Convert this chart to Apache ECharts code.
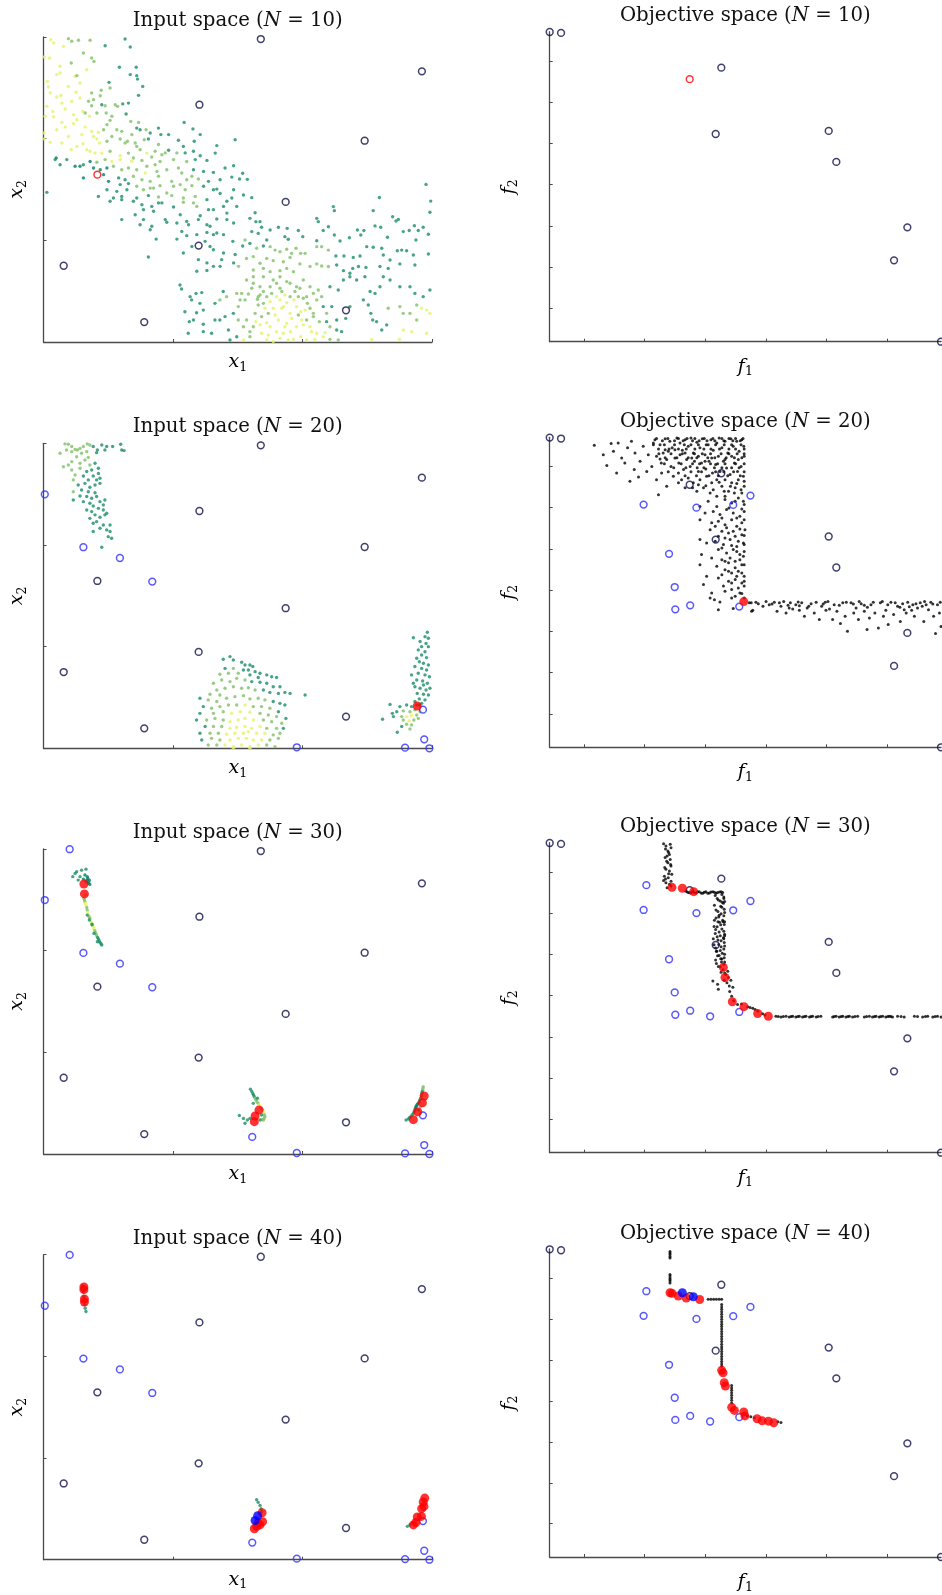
<!DOCTYPE html>
<html><head><meta charset="utf-8">
<script src="https://cdn.jsdelivr.net/npm/echarts@6/dist/echarts.min.js"></script>
<style>html,body{margin:0;padding:0;background:#fff}#c{width:942px;height:1595px}</style>
</head><body><div id="c"></div>
<script>
// ---------------- DATA ----------------
const sampleSizes = [10, 20, 30, 40];
// input space (x1 in [-5,10], x2 in [0,15])
const inputInit = [[3.39,14.9],[9.61,13.31],[1.02,11.67],[7.40,9.90],[4.35,6.89],[0.99,4.74],[-4.22,3.75],[-1.11,0.98],[6.68,1.56]];
const inputRed10 = [[-2.92,8.23]];
const inputAdded20 = [[-4.95,12.49],[-3.46,9.89],[-2.05,9.36],[-0.80,8.20],[4.78,0.05],[8.96,0.03],[9.70,0.44],[9.90,0],[9.65,1.90]];
const inputBest20 = [[9.43,2.08]];
const inputAdded30 = [[-3.99,14.99],[3.06,0.84]];
const inputBest30 = [[-3.44,13.28],[-3.42,12.79],[3.32,2.16],[3.17,1.87],[3.14,1.59],[9.70,2.85],[9.63,2.52],[9.45,2.08],[9.28,1.69]];
const inputBest40 = [[-3.44,13.41],[-3.44,13.28],[-3.42,12.82],[-3.42,12.67],[3.44,2.31],[3.46,1.87],[3.36,1.71],[3.23,1.64],[3.14,1.52],[3.29,1.80],[9.72,3.03],[9.66,2.84],[9.69,2.62],[9.60,2.51],[9.59,2.13],[9.43,2.10],[9.38,1.83],[9.28,1.71]];
const inputBlue40 = [[3.17,1.93],[3.27,2.16]];
// objective space (f1, f2 normalised)
const objInit = [[0,0.999],[0.029,0.996],[0.4386,0.884],[0.4242,0.670],[0.713,0.680],[0.7325,0.580],[0.914,0.369],[0.880,0.2625],[1.0,0]];
const objRed10 = [[0.3578,0.847]];
const objAdded20 = [[0.240,0.783],[0.375,0.773],[0.469,0.782],[0.513,0.812],[0.305,0.624],[0.3195,0.517],[0.321,0.445],[0.359,0.458],[0.4845,0.454]];
const objBest20 = [[0.496,0.470]];
const objAdded30 = [[0.247,0.863],[0.410,0.440]];
const objBest30 = [[0.3125,0.856],[0.339,0.853],[0.368,0.842],[0.4437,0.598],[0.448,0.565],[0.4667,0.487],[0.4966,0.471],[0.5315,0.449],[0.5587,0.440]];
const objBest40 = [[0.3075,0.858],[0.3125,0.856],[0.3287,0.847],[0.349,0.841],[0.3833,0.836],[0.4395,0.606],[0.443,0.598],[0.446,0.566],[0.449,0.555],[0.465,0.486],[0.472,0.476],[0.496,0.471],[0.499,0.458],[0.530,0.449],[0.543,0.442],[0.559,0.441],[0.5725,0.436]];
const objBlue40 = [[0.339,0.858],[0.367,0.845]];
const f1Ticks = [0.0894,0.2428,0.3977,0.5528,0.7079,0.862];
const f2Ticks = [0.108,0.241,0.374,0.507,0.640,0.773,0.906];

// sample clouds in input space: [x1, x2, value 0..9]
const cloudIn10 = [
[-4.72,14.87,9],[-4.61,14.71,9],[-4.04,14.92,5],[-3.91,14.79,5],[-3.65,14.84,5],[-3.2,14.84,5],[-2.62,14.57,1],[-1.85,14.9,1],[-1.65,14.51,1],
[-4.97,14.02,9],[-4.77,13.97,9],[-3.93,13.72,5],[-3.14,13.97,5],[-3.05,13.8,5],[-2.07,13.51,1],[-1.42,13.51,1],
[-4.49,13.15,9],[-4.36,13.23,9],[-3.78,13.07,9],[-3.71,13.1,5],[-1.65,13.15,1],[-1.4,13.1,1],[-1.37,12.93,1],[-4.85,12.82,9],[-4.81,12.54,9],[-2.47,12.77,1],[-1.17,12.57,1],
[-3.74,12.28,9],[-3.14,12.25,5],[-2.77,12.38,5],[-2.81,12.11,5],[-2.43,12.49,5],[-1.33,12.13,1],[-4.49,12.05,9],[-4.33,12.12,9],[-3.59,12,9],[-3.07,11.92,5],[-2.75,11.67,1],[-2.23,11.67,5],[-1.94,11.71,1],[-1.72,11.75,1],
[-4.87,11.59,9],[-4.64,11.34,9],[-4.16,11.46,9],[-3.48,11.34,9],[-3.39,11.26,5],[-3.14,11.62,5],[-2.62,11.62,5],[-2.14,11.59,5],[-4.94,11.1,9],[-4.61,11.07,9],[-3.84,11.18,9],[-3.23,11.1,9],[-2.94,11.26,5],[-2.58,11.26,5],[-2.36,11.1,5],[-1.81,11.21,1],[-2.43,10.9,5],[-1.63,10.85,5],[-1.33,10.8,5],[0.43,10.8,1],
[-4.29,10.8,9],[-3.84,10.74,9],[-4.16,10.57,9],[-3.39,10.57,9],[-3.14,10.36,9],[-2.88,10.31,9],[-2.68,10.44,5],[-1.98,10.36,5],[-1.59,10.2,5],[-1.4,10.52,1],[-1.27,10.44,1],[-1.04,10.44,5],[-0.88,10.28,1],[-0.56,10.52,1],[-0.47,10.2,1],[0.77,10.48,1],[-4.99,10.28,9],[-4.97,9.98,9],
[-3.07,10.11,9],[-2.94,9.98,9],[-2.84,9.79,9],[-2.55,9.87,5],[-2.36,10.11,5],[-2.04,9.98,5],[-1.76,9.87,5],[-1.46,9.79,5],[-1.11,9.95,5],[-0.95,9.98,1],[-0.56,9.71,5],[-0.17,10.2,1],[0.21,9.92,1],[0.82,9.87,1],[1.05,10.2,1],[1.69,9.66,1],[2.4,9.95,1],[-4.74,9.82,9],[-4.29,9.79,9],[-3.93,9.46,9],[-3.48,9.75,9],
[-3.2,9.38,9],[-3.01,9.29,9],[-2.75,9.29,9],[-2.43,9.38,5],[-2.04,9.16,9],[-1.72,9.29,5],[-1.27,9.46,5],[-1.01,9.29,9],[-0.69,9.38,5],[-0.43,9.21,5],[-0.17,9.43,1],[0.02,8.97,5],[0.4,9.62,1],[0.47,9.3,1],[0.79,9.38,1],[1.05,9.16,1],[1.31,8.93,1],[1.63,9.29,1],[2.01,8.56,1],[2.34,8.67,1],
[-4.51,9.05,0],[-4.55,8.97,1],[-4.1,8.97,1],[-3.78,8.64,0],[-3.46,8.72,1],[-3.2,8.88,0],[-2.94,8.84,5],[-2.62,8.97,5],[-2.36,8.88,9],[-2.04,8.97,9],[-1.53,9.05,5],[-1.2,8.93,5],[-0.82,9.1,5],[-0.5,8.88,5],[0.53,8.88,5],[0.86,8.97,1],
[-4.36,8.72,1],[-3.59,8.64,0],[-3.07,8.56,0],[-2.81,8.47,0],[-2.55,8.56,0],[-2.3,8.64,5],[-1.98,8.47,5],[-1.72,8.56,5],[-1.4,8.47,5],[-1.01,8.64,5],[-0.62,8.39,5],[-0.24,8.47,5],[0.21,8.56,5],[0.79,8.47,1],[1.18,8.39,1],[1.56,8.34,1],[1.82,7.98,1],[2.27,8.11,1],[2.57,8.02,1],
[-3.46,8.07,0],[-2.68,8.23,0],[-2.49,7.9,0],[-2.1,8.07,1],[-1.85,7.98,1],[-1.53,8.15,5],[-1.2,7.98,5],[-0.88,7.9,5],[-0.56,8.15,5],[-0.05,7.9,5],[0.53,7.98,5],[0.98,8.02,5],[1.37,7.9,1],
[-2.04,7.74,1],[-1.72,7.79,1],[-1.4,7.66,5],[-1.14,7.49,5],[-0.88,7.57,5],[-0.5,7.69,5],[0.02,7.66,5],[0.47,7.49,5],[0.73,7.69,5],[1.18,7.66,1],[1.69,7.52,1],[2.34,7.49,1],[-2.88,7.16,1],[-4.87,7.36,1],[-2.3,7.08,1],[-1.98,7.16,1],[-1.4,7.08,1],[-0.95,7.2,1],[-0.56,7.13,5],[-0.05,7.2,5],[0.4,7.08,5],[0.86,7.16,5],[1.31,7,1],[1.82,7.3,1],
[-2.43,6.92,1],[-1.98,7,1],[-1.53,6.92,1],[-1.2,6.75,1],[-0.82,6.67,1],[-0.43,6.84,1],[0.02,6.64,1],[0.4,6.87,5],[0.92,6.67,5],[1.37,6.51,1],[1.95,6.67,1],[2.27,7.08,1],[-1.46,6.26,1],[-1.14,6.51,1],[-0.75,6.43,1],[-0.3,6.02,1],[0.28,6.26,1],[0.53,5.93,1],[1.05,6.21,1],[1.56,6.51,1],[2.08,6.34,1],[2.46,6.67,1],[-1.98,6.02,1],
[-1.27,5.77,1],[-0.82,5.69,1],[-0.24,5.89,1],[0.15,5.85,1],[0.6,5.77,1],[0.98,6.02,1],[1.31,5.77,1],[1.69,6.05,1],[2.08,6.02,1],[2.34,5.85,1],[-0.88,5.52,1],[0.53,5.23,1],[0.92,5.28,1],[1.31,5.39,1],[1.56,5.28,1],[1.95,5.28,1],[2.31,4.95,1],[-0.65,5.06,1],[0.15,5.06,1],[0.34,5.44,1],[1.24,4.95,1],[1.69,5.36,1],
[1.43,4.7,1],[1.56,4.54,1],[1.95,4.38,1],[2.4,4.3,1],[-0.95,4.18,1],[0.4,4.38,1],[0.98,4.05,1],[1.31,3.89,1],[1.56,3.72,1],[1.88,4.05,1],[2.34,3.89,1],[0.92,3.48,1],[1.31,3.52,1],[1.82,3.72,1],[2.53,3.72,5],
[-4.23,14.54,9],[-4.36,13.56,9],[-3.46,14.21,5],[-3.33,13.39,9],[-4.04,12.57,9],[-3.59,12.74,9],[-4.74,12.25,9],[-4.29,11.75,9],[-3.91,11.84,9],[-3.26,11.84,5],[-3.71,10.93,9],[-4.49,10.44,9],[-4.04,10.11,9],[-3.52,10.2,9],[-3.33,9.46,9],[-3.71,9.62,9],[-2.55,10.69,5],[-2.17,10.44,5],[-1.85,9.79,5],[-1.4,9.62,5],[-1.59,8.89,9],[-0.69,8.72,5],[-0.3,9.3,5],[0.15,9.3,5],[0.34,8.31,5],[0.73,8.15,5],[-1.07,8.31,9],[-0.75,7.57,5],[-0.24,7.33,5],[0.28,7.74,5],[-1.78,7.49,1],[-2.17,7.41,1],[-2.55,7.49,1],[-0.56,6.84,1],[-1.14,6.02,1],[0.79,6.84,5],[1.56,7.49,1],[2.08,6.92,1],[1.43,5.69,1],[0.73,4.7,1],
[2.69,8.3,1],[2.87,8,1],[2.72,7.23,1],[3.04,7.1,1],[3.17,6.36,1],[2.97,6.08,1],[3.2,5.92,1],[3.36,5.92,1],[3.04,5.43,1],[3.29,5.34,1],[3.42,5.64,1],[3.75,5.51,1],[4.07,5.64,1],[4.41,5.59,1],[4.84,5.48,1],[4.32,5.18,1],[4.45,5.05,1],[5.01,5.18,1],[5.55,4.98,1],[5.55,6.08,1],[5.61,5.92,1],[5.8,5.48,1],[6,5.67,1],[6.23,5.26,1],[6.19,6.66,1],[6.23,6.46,1],[6.45,4.97,1],[6.81,5.13,1],[7.12,5.51,1],[7.25,5.26,1],[7.37,5.48,1],[7.73,6.46,1],[7.97,7.11,1],[7.8,5.71,1],[8.02,5.64,1],[8.28,5.15,1],[8.48,6.16,1],[8.61,5.95,1],[8.7,6.03,1],[8.89,5.43,1],[9.12,5.48,1],[9.32,5.72,1],[9.47,5.48,1],[9.66,5.64,1],[9.38,5.02,1],[9.86,5.3,1],[9.95,6.93,1],[9.77,7.75,1],[9.92,6.38,1],
[2.78,5.02,5],[2.97,4.85,1],[2.69,4.72,1],[3.23,4.61,5],[3.49,4.72,1],[3.62,5.02,1],[3.75,4.69,5],[3.94,4.52,5],[4.13,4.44,5],[4.39,4.56,5],[4.58,4.36,5],[4.75,4.61,5],[4.93,4.36,5],[5.1,4.36,5],[5.55,4.69,5],[5.74,4.69,5],[6,4.52,5],[6.29,4.23,1],[6.6,4.23,1],[6.96,4.16,1],[7.22,4.23,1],[7.48,4.69,1],[7.73,4.66,1],[8.06,4.61,1],[8.12,4.28,1],[8.38,4.03,1],[8.66,4.49,1],[8.83,4.52,1],[9.02,4.49,1],[9.28,4.28,1],[9.86,4.33,1],[9.34,3.79,1],
[2.84,4.11,5],[3.1,4.2,5],[3.36,3.87,5],[3.62,4.11,5],[3.87,4,5],[4.26,3.95,5],[4.52,4.16,5],[4.9,3.84,5],[5.29,3.71,5],[5.55,3.84,5],[5.74,3.74,5],[6,3.71,5],[6.32,3.79,1],[6.94,3.62,1],[7.16,3.71,1],[7.45,3.67,1],[7.99,3.71,1],[8.31,3.62,1],[8.76,3.84,1],[3.1,3.54,5],[3.49,3.62,5],[3.75,3.46,5],[4.13,3.51,5],[4.39,3.62,5],[4.65,3.46,5],[6.58,3.51,1],[6.83,3.38,1],
[0.27,2.8,1],[0.33,2.61,1],[0.66,2.23,1],[0.72,2.07,1],[0.89,2.39,1],[1.11,2.43,1],[1.04,1.9,1],[0.46,1.49,1],[0.91,1.44,1],[1.17,1.57,1],[0.79,1.08,1],[0.63,1,1],[1.17,0.87,1],[1.49,0.43,1],[1.17,0.51,1],[0.59,0.43,1],[1.62,1.9,1],[1.81,2.07,5],[1.94,2.48,1],[2.07,2.23,5],[2.01,1.25,1],[1.81,1.08,1],[1.62,1.08,1],[2.14,0.59,1],[2.33,1.41,1],[2.46,2.39,5],[2.59,2.07,5],[2.52,1.74,5],[2.65,2.39,5],[2.91,2.36,5],[2.84,3.05,5],[3.1,2.89,5],[3.36,2.72,5],[3.36,2.31,5],[3.29,1.82,5],[3.49,1.9,5],[3.68,1.41,5],[3.87,1.66,9],[4,2.23,9],[4.13,2.07,9],[4.32,2.31,9],[4.26,1.74,9],[4.52,1.41,9],[4.77,1.74,9],[4.97,1.08,9],[5.1,1.57,9],[5.29,1.66,5],[5.55,2.07,5],[5.74,2.23,5],[5.8,1.74,1],[5.93,1,1],[6.06,0.75,5],[6.32,0.59,1],[6.51,0.51,1],[6.13,1.74,1],[6.32,1.08,1],[6.67,1.16,1],[6.83,1.74,1],[7.35,2.07,1],[7.54,1.82,1],[7.64,1.41,1],[7.71,1.08,1],[7.86,1,1],[8.06,0.59,1],[8.25,0.84,1],[8.31,1.66,5],[8.76,1.74,5],[8.89,1.41,5],[9.15,1.41,5],[9.41,1.82,5],[9.6,1.66,9],[9.79,1.57,9],[9.92,1.41,9],[9.41,1.08,5],[8.89,0.59,9],[9.22,0.51,9],[9.79,0.43,9],[8.74,0.13,9],[7.67,0.13,9],
[3.1,0.75,5],[3.36,0.84,9],[3.62,0.95,9],[3.75,0.75,9],[4,0.51,9],[4.26,0.43,9],[4.45,0.1,9],[4.65,0.13,9],[4.77,0.75,9],[5.29,0.75,9],[5.55,0.43,9],[5.87,0.46,9],[2.46,0.26,1],[2.2,0.1,1],[2.72,0.1,9],[2.97,0.26,5],[3.62,0.1,9],[3.87,0.02,9],[2.84,1.08,5],[3.17,1.41,5],[3.42,1.25,5],[4.07,1.08,9],[4.39,0.92,9],[4.84,1.33,5],[5.16,1.08,5],[5.42,1.25,5],[5.61,2.56,5],[6.06,2.72,1],[6.38,2.56,1],[6.58,3.05,1],[6.83,3.21,1],[7.09,3.05,1],[7.41,3.21,1],[7.61,2.48,1],[7.8,2.39,1],[7.99,2.72,1],[8.12,3.21,1],[8.38,3.05,1],[8.76,2.72,1],[9.15,2.72,1],[9.34,2.39,1],[9.66,2.23,1],[9.92,2.56,1],[3.1,3.21,5],[3.49,3.21,5],[3.87,3.05,5],[4.13,3.21,5],[4.52,2.89,5],[4.77,2.72,5],[5.03,3.05,5],[5.29,2.72,5],[3.75,2.72,5],[4.13,2.64,5],[4.52,2.23,5],[4.84,2.23,5],[5.16,2.23,5],[5.42,2.39,5],[3.29,2.23,5],[3.62,2.23,5],
[3.26,2.1,5],[3.55,1.66,9],[3.75,1.98,9],[3.94,1.33,9],[4.2,1.66,9],[4.39,1.93,9],[4.58,1.16,9],[4.67,2.07,9],[4.93,1.49,9],[5.03,0.84,9],[5.19,1.9,5],[5.35,0.51,9],[5.42,1.41,5],[5.65,1,5],[5.8,0.26,9],[5.93,1.41,5],[3.2,1,9],[3.42,0.43,9],[3.68,0.34,9],[4.13,0.18,9],[4.32,0.75,9],[4.54,0.51,9],[4.93,0.26,9],[5.16,0.1,9],[5.48,0.13,9],[6.06,0.13,5],[6.38,0.1,5],[2.97,0.51,5],[2.72,0.75,5],[2.52,1.08,5],[3.81,2.39,5],[4.2,2.48,5],[4.71,2.48,5],[5.03,2.15,5],[4.39,2.97,5],[4,2.89,5],[3.49,2.48,5],[3.04,2.64,5],[2.78,2.07,5],[4.9,2.64,5]
];
const cloudIn20 = [
[-4.36,14.51,5],[-4.17,14.97,5],[-4.04,14.95,5],[-3.91,14.84,5],[-3.78,14.7,5],[-3.69,14.67,5],[-3.59,14.75,5],[-3.46,14.84,5],[-3.31,14.97,5],[-3.21,14.92,5],[-3.08,14.84,1],[-2.92,14.67,1],[-2.75,14.92,1],[-2.63,14.67,1],[-2.56,14.84,1],[-2.33,14.84,1],[-2.02,14.95,1],[-1.98,14.67,1],[-1.89,14.64,1],[-3.53,14.51,5],[-3.33,14.59,5],[-2.95,14.54,1],[-4.11,14.67,5],[-3.91,14.59,5],
[-4.23,13.85,5],[-4.04,13.93,5],[-3.91,14.1,5],[-3.72,14.34,5],[-3.59,14.02,5],[-3.4,14.18,5],[-3.27,14.31,5],[-3.21,13.93,5],[-3.01,14.02,1],[-3.91,13.69,5],[-3.59,13.77,5],[-3.33,13.61,1],[-3.14,13.69,1],[-2.88,13.77,1],[-3.78,13.44,5],[-3.46,13.39,1],[-3.08,13.39,1],[-2.95,13.2,1],[-2.82,13.28,1],[-3.27,13.2,1],[-3.85,13.2,5],[-2.88,13.52,1],
[-3.66,12.95,1],[-3.4,13.03,1],[-3.21,12.84,1],[-3.01,12.95,1],[-2.82,13.03,1],[-3.53,12.7,1],[-3.27,12.62,1],[-3.01,12.57,1],[-3.33,12.38,1],[-3.14,12.3,1],[-2.95,12.38,1],[-3.85,12.62,5],[-3.85,12.21,1],[-3.46,12.13,1],[-3.21,12.05,1],[-2.82,12.13,1],[-2.69,11.97,1],[-2.63,12.21,1],[-3.59,12.41,1],[-3.08,11.92,1],
[-3.33,11.72,1],[-3.14,11.64,1],[-2.88,11.8,1],[-2.69,11.72,1],[-2.56,11.56,1],[-3.01,11.48,1],[-2.82,11.36,1],[-3.21,11.31,1],[-3.08,11.07,1],[-2.69,10.98,1],[-2.43,10.98,1],[-2.82,10.82,1],[-2.56,10.74,1],[-3.08,10.66,1],[-2.43,10.66,1],[-2.5,10.41,1],[-2.37,10.33,1],[-2.75,9.89,1],[-2.63,11.48,1],[-2.95,11.15,1],
[1.94,4.38,1],[2.2,4.51,1],[2.33,4.34,1],[2.65,4.23,1],[2.78,4.1,1],[2.97,4.1,1],[3.08,4.02,1],[2.01,3.93,1],[2.33,3.93,5],[2.72,3.85,1],[2.91,3.85,1],[3.17,3.77,1],[3.36,3.69,1],[3.62,3.61,1],[3.81,3.52,1],[4,3.48,1],[1.81,3.64,5],[2.14,3.69,5],[2.52,3.69,5],[2.97,3.61,1],[3.29,3.48,1],
[1.56,3.2,5],[1.88,3.36,5],[2.2,3.28,5],[2.46,3.44,5],[2.78,3.36,5],[3.04,3.28,1],[3.36,3.25,1],[3.62,3.2,1],[3.87,3.03,1],[4.13,3.03,1],[1.69,2.87,5],[2.01,2.95,5],[2.33,3.03,5],[2.65,2.95,5],[2.91,2.98,5],[3.17,2.87,5],[3.49,2.87,1],[3.74,2.75,1],[4.07,2.7,1],[4.32,2.75,1],[4.52,2.7,1],[5.1,2.62,1],[1.43,2.66,5],[1.81,2.62,5],
[1.04,2.46,1],[1.36,2.38,5],[1.69,2.3,5],[2.07,2.46,5],[2.39,2.54,5],[2.72,2.59,5],[2.97,2.43,5],[3.29,2.46,5],[3.55,2.38,5],[3.87,2.3,1],[4.13,2.21,1],[4.32,2.13,1],[1.17,2.05,1],[1.49,1.97,5],[1.81,2.05,5],[2.14,2.13,5],[2.46,2.13,5],[2.78,2.13,9],[3.1,2.05,5],[3.42,2.05,5],[3.74,1.97,5],[4.07,1.8,1],[1.04,1.72,1],[1.56,1.72,5],[1.94,1.8,5],[2.26,1.72,9],[2.59,1.8,9],[2.97,1.77,9],[3.36,1.72,5],[3.68,1.64,5],[4,1.56,5],[4.36,1.47,1],
[0.91,1.39,1],[1.3,1.39,5],[1.62,1.47,5],[1.94,1.39,5],[2.2,1.31,9],[2.52,1.39,9],[2.78,1.47,9],[3.1,1.39,9],[3.49,1.39,5],[3.81,1.31,5],[4.2,1.23,5],[1.24,1.07,1],[1.56,1.07,5],[1.88,1.07,5],[2.2,0.98,9],[2.46,1.02,9],[2.78,1.07,9],[3.04,0.98,9],[3.36,1.07,9],[3.62,0.98,5],[4,0.98,5],[4.26,0.98,1],[1.04,0.74,1],[1.43,0.74,5],[1.75,0.74,5],[2.07,0.69,9],[2.39,0.74,9],[2.72,0.74,9],[2.91,0.82,9],[3.23,0.74,9],[3.55,0.74,9],[3.87,0.66,5],[4.13,0.74,5],
[1.11,0.41,1],[1.49,0.49,5],[1.81,0.41,5],[2.2,0.41,9],[2.52,0.49,9],[2.84,0.49,9],[3.1,0.41,9],[3.42,0.41,9],[3.74,0.41,5],[4.07,0.49,5],[1.36,0.16,5],[1.69,0.16,5],[2.01,0.16,9],[2.33,0.08,9],[2.65,0.16,9],[2.97,0.08,9],[3.29,0.16,9],[3.62,0.16,5],[3.94,0.08,5],[2.33,0,9],[2.97,0,9],
[9.82,5.71,1],[9.73,5.49,1],[9.86,5.41,1],[9.28,5.44,1],[9.54,5.25,1],[9.77,5.16,1],[9.6,5,1],[9.86,5,1],[9.47,4.84,1],[9.73,4.75,1],[9.6,4.59,1],[9.41,4.43,1],[9.79,4.46,1],[9.51,4.26,1],[9.67,4.18,1],[9.86,4.1,1],[9.34,4.02,1],[9.6,3.93,1],[9.79,3.85,1],[9.21,3.61,1],[9.47,3.69,1],[9.73,3.61,1],[9.9,3.52,1],[9.41,3.36,1],[9.64,3.31,1],[9.82,3.2,1],[9.34,3.03,1],[9.54,2.95,1],[9.77,2.87,1],[9.92,2.95,1],[9.43,2.7,1],[9.67,2.66,1],[9.86,2.62,1],[9.51,2.43,1],[9.73,2.38,1],[9.34,2.3,1],[9.6,2.21,1],[8.38,2.16,1],[8.76,2.05,1],[9.02,2.13,1],[9.21,2.05,1],[9.41,2.13,1],[8.64,1.8,1],[8.89,1.84,5],[9.15,1.8,5],[9.34,1.89,5],[9.54,1.8,5],[8.51,1.56,1],[8.83,1.56,5],[9.02,1.56,9],[9.21,1.61,9],[9.41,1.64,5],[8.09,1.43,1],[8.89,1.39,5],[9.12,1.34,9],[9.3,1.39,5],[9.47,1.47,5],[9.02,1.18,5],[9.21,1.15,5],[8.83,1.07,1],[8.66,0.79,1],[9.15,0.95,5],[8.47,1.72,1],[9.28,3.2,1],[9.67,3.11,1],[9.51,2.13,1]
];
const cloudIn30 = [
[-3.87,13.64,1],[-3.78,13.8,1],[-3.72,13.88,1],[-3.53,13.96,1],[-3.36,14.01,1],[-3.66,13.47,1],[-3.59,13.64,1],[-3.4,13.72,0],[-3.31,13.64,0],[-3.23,13.47,0],[-3.36,13.41,0],[-3.27,13.31,0],[-3.46,13.52,0],[-3.21,13.26,0],[-3.29,13.55,0],[-3.25,13.38,0],[-3.33,13.46,0],
[-3.44,12.57,5],[-3.42,12.49,5],[-3.4,12.41,5],[-3.38,12.33,9],[-3.36,12.25,9],[-3.33,12.12,5],[-3.31,12,5],[-3.29,11.87,9],[-3.27,11.75,9],[-3.24,11.67,5],[-3.21,11.59,5],[-3.18,11.47,9],[-3.15,11.39,9],[-3.12,11.31,5],[-3.1,11.23,5],[-3.07,11.15,9],[-3.05,11.07,9],[-3.02,10.98,5],[-3,10.9,5],[-2.97,10.82,5],[-2.95,10.74,5],[-2.91,10.65,1],[-2.88,10.57,1],[-2.85,10.49,1],[-2.82,10.41,1],[-2.78,10.34,1],[-2.75,10.28,1],[-3.23,11.51,1],[-3.05,10.85,1],[-2.92,10.44,1],[-3.31,11.75,1],[-3.36,12.73,5],[-3.13,11.29,1],
[2.99,3.19,1],[3.04,3.08,1],[3.08,2.98,1],[3.11,2.9,1],[3.14,2.82,1],[3.17,2.74,5],[3.2,2.66,5],[3.24,2.57,5],[3.29,2.49,5],[3.33,2.41,9],[3.38,2.33,9],[3.42,2.25,5],[3.46,2.16,5],[3.49,2.08,9],[3.51,2,9],[3.53,1.92,5],[3.55,1.84,5],[3.52,1.75,5],[3.49,1.67,5],[3.43,1.7,5],[3.36,1.67,1],[2.56,1.89,1],[2.72,1.75,1],[2.78,1.51,1],[2.87,1.67,1],[2.97,1.75,1],[3.26,2.74,1],[3.1,2.49,1],[3.42,1.92,1],
[9.66,3.31,5],[9.65,3.22,5],[9.64,3.14,5],[9.62,3.06,1],[9.61,2.98,1],[9.59,2.86,1],[9.56,2.74,1],[9.53,2.65,1],[9.51,2.57,1],[9.47,2.5,0],[9.43,2.44,0],[9.41,2.38,0],[9.38,2.33,0],[9.36,2.25,0],[9.34,2.16,0],[9.31,2.08,1],[9.28,2,1],[9.23,1.92,1],[9.18,1.84,1],[9.13,1.78,1],[9.09,1.72,1],[9,1.67,1],[9.56,2.33,5],[9.48,2.16,1]
];
const cloudIn40 = [
[-3.49,13.47,1],[-3.46,13.19,1],[-3.44,12.95,1],[-3.41,12.54,1],[-3.39,12.37,1],[-3.36,12.21,1],
[3.23,2.95,1],[3.29,2.82,1],[3.36,2.67,1],[3.4,2.51,1],[3.42,2.37,1],
[9.05,1.64,1],[9.15,1.72,1],[9.25,1.8,1]
];
// sample clouds in objective space: [f1, f2]
const cloudObj20 = [
[0.114,0.974],[0.137,0.944],[0.146,0.909],[0.157,0.98],[0.163,0.955],[0.171,0.885],[0.175,0.982],[0.184,0.933],[0.192,0.917],[0.199,0.966],[0.205,0.858],[0.209,0.987],[0.216,0.896],[0.218,0.949],[0.227,0.872],[0.231,0.923],[0.239,0.971],[0.248,0.89],[0.252,0.944],[0.261,0.906],[0.265,0.982],[0.273,0.863],[0.278,0.815],[0.282,0.93],[0.286,0.885],[0.295,0.96],[0.299,0.842],
[0.269,0.992],[0.282,0.976],[0.295,0.995],[0.307,0.987],[0.313,0.966],[0.325,0.998],[0.333,0.982],[0.339,0.958],[0.346,0.992],[0.354,0.971],[0.361,0.998],[0.367,0.949],[0.376,0.984],[0.384,0.966],[0.39,0.995],[0.397,0.944],[0.405,0.976],[0.412,0.992],[0.418,0.958],[0.427,0.982],[0.433,0.998],[0.44,0.966],[0.448,0.987],[0.455,0.949],[0.463,0.995],[0.469,0.971],[0.478,0.987],[0.484,0.955],[0.491,0.992],[0.496,0.971],[0.497,0.939],
[0.273,0.939],[0.285,0.917],[0.299,0.928],[0.31,0.906],[0.32,0.933],[0.33,0.917],[0.342,0.896],[0.35,0.928],[0.359,0.906],[0.37,0.923],[0.38,0.89],[0.388,0.917],[0.399,0.898],[0.407,0.923],[0.416,0.885],[0.424,0.912],[0.435,0.89],[0.444,0.923],[0.452,0.901],[0.461,0.88],[0.472,0.917],[0.48,0.89],[0.489,0.906],[0.495,0.874],[0.346,0.949],[0.363,0.933],[0.38,0.939],[0.397,0.923],[0.414,0.933],[0.431,0.939],[0.448,0.928],[0.465,0.939],[0.482,0.928],[0.32,0.96],[0.303,0.955],[0.29,0.949],[0.333,0.944],
[0.273,0.996],[0.288,0.989],[0.302,0.996],[0.319,0.989],[0.329,0.996],[0.341,0.989],[0.351,0.996],[0.365,0.989],[0.371,0.996],[0.382,0.989],[0.395,0.996],[0.402,0.989],[0.417,0.996],[0.422,0.989],[0.44,0.996],[0.445,0.989],[0.458,0.996],[0.468,0.989],[0.475,0.996],[0.487,0.989],[0.494,0.996],
[0.265,0.976],[0.278,0.962],[0.293,0.976],[0.305,0.962],[0.319,0.976],[0.329,0.962],[0.344,0.976],[0.349,0.962],[0.361,0.976],[0.371,0.962],[0.38,0.976],[0.394,0.962],[0.4,0.976],[0.412,0.962],[0.424,0.976],[0.434,0.962],[0.446,0.976],[0.458,0.962],[0.465,0.976],[0.475,0.962],[0.489,0.976],[0.497,0.962],
[0.279,0.947],[0.295,0.934],[0.31,0.947],[0.325,0.934],[0.339,0.947],[0.354,0.934],[0.37,0.947],[0.376,0.934],[0.39,0.947],[0.404,0.934],[0.411,0.947],[0.422,0.934],[0.438,0.947],[0.451,0.934],[0.458,0.947],[0.472,0.934],[0.479,0.947],[0.491,0.934],[0.497,0.947],
[0.293,0.915],[0.317,0.902],[0.336,0.915],[0.348,0.902],[0.365,0.915],[0.377,0.902],[0.383,0.915],[0.394,0.902],[0.411,0.915],[0.421,0.902],[0.429,0.915],[0.44,0.902],[0.448,0.915],[0.465,0.902],[0.475,0.915],[0.484,0.902],[0.497,0.915],
[0.303,0.889],[0.346,0.876],[0.361,0.889],[0.375,0.876],[0.388,0.889],[0.407,0.876],[0.424,0.889],[0.431,0.876],[0.445,0.889],[0.455,0.876],[0.47,0.889],[0.487,0.876],[0.497,0.889],
[0.329,0.853],[0.365,0.837],[0.38,0.847],[0.399,0.844],[0.418,0.831],[0.433,0.855],[0.446,0.826],[0.462,0.842],[0.478,0.851],[0.489,0.831],[0.497,0.858],[0.472,0.82],
[0.316,0.874],[0.329,0.885],[0.337,0.863],[0.354,0.869],[0.367,0.853],[0.384,0.863],[0.393,0.837],[0.401,0.874],[0.414,0.853],[0.427,0.863],[0.44,0.842],[0.448,0.863],[0.457,0.826],[0.465,0.853],[0.474,0.837],[0.482,0.863],[0.491,0.82],[0.497,0.842],[0.376,0.826],[0.41,0.82],[0.346,0.837],
[0.384,0.777],[0.405,0.794],[0.427,0.81],[0.448,0.799],[0.465,0.788],[0.482,0.804],[0.495,0.794],[0.397,0.756],[0.418,0.761],[0.435,0.751],[0.452,0.767],[0.469,0.756],[0.486,0.745],[0.497,0.761],[0.384,0.734],[0.414,0.724],[0.431,0.729],[0.448,0.718],[0.465,0.734],[0.478,0.713],[0.491,0.724],[0.499,0.702],[0.41,0.702],[0.44,0.697],[0.457,0.691],[0.474,0.681],[0.491,0.686],[0.384,0.67],[0.401,0.659],[0.423,0.665],[0.444,0.654],[0.461,0.67],[0.478,0.648],[0.495,0.659],[0.431,0.638],[0.452,0.627],[0.469,0.638],[0.486,0.622],[0.497,0.632],[0.388,0.622],[0.414,0.611],[0.44,0.605],[0.457,0.595],[0.474,0.6],[0.491,0.589],[0.427,0.584],[0.448,0.573],[0.465,0.562],[0.482,0.568],[0.497,0.552],[0.384,0.589],[0.401,0.552],[0.431,0.546],[0.457,0.536],[0.474,0.541],[0.491,0.53],[0.444,0.52],[0.465,0.509],[0.482,0.514],[0.497,0.52],[0.393,0.525],[0.414,0.498],[0.435,0.469],[0.41,0.482],[0.421,0.476],[0.469,0.448],[0.515,0.466],[0.516,0.439],[0.431,0.444],[0.491,0.496],
[0.448,0.81],[0.474,0.794],[0.497,0.783],[0.427,0.777],[0.458,0.772],[0.491,0.769],[0.478,0.74],[0.497,0.734],[0.44,0.74],[0.423,0.713],[0.452,0.708],[0.486,0.704],[0.469,0.697],[0.497,0.683],[0.431,0.681],[0.448,0.675],[0.482,0.665],[0.497,0.654],[0.465,0.651],[0.44,0.643],[0.478,0.632],[0.495,0.616],[0.461,0.611],[0.486,0.605],[0.448,0.6],[0.497,0.589],[0.474,0.579],[0.457,0.568],[0.491,0.562],[0.44,0.557],[0.478,0.552],[0.497,0.536],[0.465,0.53],[0.448,0.503],[0.486,0.498],[0.474,0.487],[0.497,0.482],[0.465,0.482],
[0.51,0.466],[0.519,0.442],[0.533,0.463],[0.561,0.46],[0.574,0.468],[0.581,0.439],[0.591,0.455],[0.604,0.433],[0.615,0.466],[0.621,0.446],[0.629,0.46],[0.638,0.442],[0.644,0.466],[0.651,0.423],[0.658,0.449],[0.668,0.463],[0.676,0.433],[0.689,0.412],[0.695,0.455],[0.704,0.468],[0.715,0.446],[0.723,0.412],[0.727,0.46],[0.734,0.439],[0.743,0.399],[0.749,0.466],[0.755,0.423],[0.761,0.374],[0.77,0.466],[0.777,0.433],[0.783,0.449],[0.789,0.412],[0.796,0.463],[0.804,0.439],[0.811,0.38],[0.817,0.417],[0.821,0.46],[0.831,0.433],[0.84,0.385],[0.845,0.466],[0.853,0.423],[0.859,0.442],[0.865,0.396],[0.872,0.468],[0.879,0.428],[0.889,0.455],[0.896,0.406],[0.902,0.463],[0.911,0.433],[0.919,0.453],[0.925,0.442],[0.932,0.423],[0.94,0.449],[0.947,0.466],[0.956,0.406],[0.962,0.46],[0.968,0.444],[0.974,0.468],[0.981,0.423],[0.986,0.367],[0.991,0.46],[1,0.39],[0.996,0.433],[0.638,0.457],[0.706,0.442],[0.804,0.458],[0.906,0.444],[0.936,0.463],[0.864,0.46],[0.587,0.466],[0.612,0.449],
[0.527,0.468],[0.545,0.455],[0.553,0.47],[0.568,0.462],[0.598,0.47],[0.609,0.458],[0.635,0.469],[0.662,0.455],[0.681,0.468],[0.699,0.462],[0.711,0.47],[0.74,0.458],[0.758,0.468],[0.776,0.462],[0.791,0.47],[0.812,0.452],[0.827,0.468],[0.85,0.47],[0.883,0.466],[0.895,0.452],[0.915,0.468],[0.928,0.46],[0.952,0.455],[0.958,0.47],[0.979,0.462],[0.998,0.468]
];
const cloudObj30 = [
[0.291,0.997],[0.297,0.989],[0.308,0.995],[0.31,0.984],[0.302,0.973],[0.306,0.962],[0.295,0.952],[0.308,0.946],[0.302,0.935],[0.31,0.925],[0.297,0.914],[0.306,0.909],[0.293,0.892],[0.303,0.887],[0.31,0.876],[0.297,0.871],[0.306,0.866],[0.291,0.878],[0.312,0.898],[0.3,0.957],
[0.296,0.98],[0.304,0.968],[0.299,0.94],[0.309,0.93],[0.294,0.92],[0.304,0.9],[0.296,0.883],[0.31,0.86],[0.3,0.855],
[0.348,0.843],[0.357,0.839],[0.365,0.843],[0.374,0.838],[0.382,0.842],[0.391,0.837],[0.399,0.842],[0.408,0.838],[0.417,0.842],[0.425,0.837],[0.434,0.841],[0.442,0.839],
[0.352,0.841],[0.361,0.838],[0.369,0.84],[0.378,0.842],[0.387,0.838],[0.395,0.84],[0.404,0.837],[0.412,0.841],[0.421,0.84],[0.429,0.839],[0.438,0.842],
[0.44,0.833],[0.445,0.825],[0.428,0.82],[0.436,0.812],[0.444,0.805],[0.421,0.798],[0.44,0.792],[0.446,0.785],[0.43,0.778],[0.438,0.771],[0.445,0.764],[0.425,0.757],[0.442,0.75],[0.434,0.743],[0.446,0.736],[0.428,0.729],[0.44,0.722],[0.445,0.714],[0.423,0.707],[0.436,0.7],[0.444,0.693],[0.43,0.686],[0.446,0.678],[0.42,0.671],[0.438,0.664],[0.445,0.657],[0.427,0.65],[0.441,0.643],[0.433,0.636],[0.446,0.629],[0.424,0.622],[0.439,0.615],[0.445,0.608],[0.431,0.601],[0.418,0.69],[0.426,0.65],[0.443,0.745],[0.447,0.7],[0.432,0.76],[0.437,0.626],
[0.423,0.83],[0.431,0.815],[0.447,0.81],[0.437,0.795],[0.425,0.783],[0.447,0.775],[0.433,0.766],[0.421,0.75],[0.447,0.745],[0.437,0.735],[0.424,0.72],[0.433,0.712],[0.447,0.705],[0.428,0.697],[0.438,0.684],[0.447,0.667],[0.432,0.672],[0.424,0.66],[0.436,0.652],[0.447,0.64],[0.429,0.635],[0.44,0.625],[0.447,0.615],[0.426,0.61],[0.436,0.6],[0.443,0.59],[0.447,0.58],[0.438,0.582],[0.445,0.82],[0.441,0.808],[0.445,0.69],[0.42,0.73],[0.43,0.745],
[0.417,0.554],[0.429,0.543],[0.431,0.527],[0.446,0.556],[0.453,0.548],[0.459,0.538],[0.463,0.556],[0.468,0.534],[0.457,0.565],[0.45,0.575],[0.455,0.585],[0.46,0.52],[0.465,0.505],[0.47,0.49],
[0.48,0.478],[0.506,0.471],[0.519,0.466],[0.532,0.457],[0.544,0.448],[0.49,0.48],[0.512,0.468],[0.525,0.462],[0.55,0.444],
[0.578,0.44],[0.584,0.439],[0.591,0.438],[0.597,0.439],[0.604,0.44],[0.612,0.438],[0.617,0.439],[0.621,0.44],[0.629,0.438],[0.634,0.439],[0.638,0.44],[0.646,0.438],[0.651,0.439],[0.655,0.44],[0.664,0.438],[0.668,0.439],[0.672,0.44],[0.681,0.438],[0.686,0.439],[0.693,0.44],[0.723,0.438],[0.727,0.439],[0.732,0.44],[0.74,0.438],[0.745,0.439],[0.749,0.44],[0.757,0.438],[0.762,0.439],[0.766,0.44],[0.774,0.438],[0.78,0.439],[0.787,0.44],[0.804,0.438],[0.81,0.439],[0.817,0.44],[0.825,0.438],[0.83,0.439],[0.834,0.44],[0.842,0.438],[0.846,0.439],[0.851,0.44],[0.859,0.438],[0.864,0.439],[0.868,0.44],[0.872,0.439],[0.876,0.438],[0.889,0.44],[0.898,0.439],[0.906,0.438],[0.932,0.44],[0.94,0.439],[0.953,0.438],[0.96,0.439],[0.966,0.44],[0.979,0.438],[0.985,0.439],[0.991,0.44],[1,0.438]
];
const cloudObj40 = [
[0.3075,0.992],[0.3075,0.987],[0.3075,0.982],[0.3075,0.976],[0.3075,0.971],[0.3075,0.917],[0.3075,0.912],[0.3075,0.906],[0.3075,0.901],[0.3075,0.896],[0.3075,0.89],
[0.405,0.837],[0.412,0.837],[0.419,0.837],[0.426,0.837],[0.433,0.837],[0.4395,0.837],
[0.4395,0.82],[0.4395,0.812],[0.4395,0.804],[0.4395,0.796],[0.4395,0.788],[0.4395,0.78],[0.4395,0.772],[0.4395,0.764],[0.4395,0.756],[0.4395,0.748],[0.4395,0.74],[0.4395,0.732],[0.4395,0.724],[0.4395,0.716],[0.4395,0.708],[0.4395,0.7],[0.4395,0.691],[0.4395,0.683],[0.4395,0.675],[0.4395,0.667],[0.4395,0.659],[0.4395,0.651],[0.4395,0.643],[0.4395,0.635],[0.4395,0.627],[0.4395,0.619],
[0.465,0.557],[0.465,0.549],[0.465,0.541],[0.465,0.533],[0.465,0.525],[0.465,0.517],[0.465,0.509],[0.465,0.5],
[0.514,0.455],[0.523,0.452],[0.583,0.439],[0.591,0.437],[0.505,0.458]
];

// ---------------- CHART ----------------
const SERIF = "'DejaVu Serif', serif";
const AX = '#4a4a4a';
const NAVY = '#10104a', BLUE = '#2e2eff', RED = '#ff0000';
const inGrid = {left:43.5, width:388.5, height:305, tops:[37,443.3,849,1254.7]};
const obGrid = {left:549.7, width:391.3, height:310, tops:[31.7,437.3,842.7,1249]};

function summer(v){const t=v/10;return 'rgb('+Math.round(255*t)+','+Math.round(128+127*t)+',102)';}

const grid=[], xAxis=[], yAxis=[], title=[], series=[];
const rich = {
  v:{fontFamily:SERIF,fontStyle:'italic',fontSize:19,lineHeight:24,color:'#000'},
  s:{fontFamily:SERIF,fontSize:12.5,lineHeight:13,verticalAlign:'bottom',color:'#000'}
};
function axisCommon(extra){
  return Object.assign({type:'value',axisLine:{show:true,onZero:false,lineStyle:{color:AX,width:1.3}},
    axisTick:{show:true,inside:true,length:3,lineStyle:{color:AX,width:1}},
    axisLabel:{show:false},splitLine:{show:false},nameLocation:'middle',nameTextStyle:{rich:rich}},extra);
}
for(let r=0;r<4;r++){
  grid.push({left:inGrid.left,top:inGrid.tops[r],width:inGrid.width,height:inGrid.height});
  xAxis.push(axisCommon({gridIndex:r,min:-5,max:10,interval:5,name:'{v|x}{s|1}',nameGap:8}));
  yAxis.push(axisCommon({gridIndex:r,min:0,max:15,interval:5,name:'{v|x}{s|2}',nameGap:14}));
}
for(let r=0;r<4;r++){
  grid.push({left:obGrid.left,top:obGrid.tops[r],width:obGrid.width,height:obGrid.height});
  const xa=axisCommon({gridIndex:4+r,min:0,max:1,name:'{v|f}{s|1}',nameGap:13});
  xa.axisTick=Object.assign({},xa.axisTick,{customValues:f1Ticks});
  const ya=axisCommon({gridIndex:4+r,min:0,max:1,name:'{v|f}{s|2}',nameGap:29});
  ya.axisTick=Object.assign({},ya.axisTick,{customValues:f2Ticks});
  xAxis.push(xa); yAxis.push(ya);
}
const tStyle={fontFamily:SERIF,fontSize:19.7,fontWeight:'normal',color:'#111',lineHeight:20,
  rich:{n:{fontFamily:SERIF,fontStyle:'italic',fontSize:19.7,color:'#111',lineHeight:20}}};
sampleSizes.forEach((N,r)=>{
  title.push({text:'Input space ({n|N} = '+N+')',left:inGrid.left+inGrid.width/2,top:inGrid.tops[r]-26,textAlign:'center',padding:0,textStyle:tStyle});
  title.push({text:'Objective space ({n|N} = '+N+')',left:obGrid.left+obGrid.width/2,top:obGrid.tops[r]-25.5,textAlign:'center',padding:0,textStyle:tStyle});
});

function dots(data,ax,size,colorFn,z){series.push({type:'scatter',xAxisIndex:ax,yAxisIndex:ax,data:data,symbol:'circle',symbolSize:size,
  itemStyle:{color:colorFn},silent:true,clip:false,z:z||2,animation:false});}
function openC(data,ax,color){series.push({type:'scatter',xAxisIndex:ax,yAxisIndex:ax,data:data,symbol:'circle',symbolSize:6.8,
  itemStyle:{color:'rgba(0,0,0,0)',borderColor:color,borderWidth:1.5},silent:true,clip:false,z:3,animation:false});}
function fillC(data,ax,color){series.push({type:'scatter',xAxisIndex:ax,yAxisIndex:ax,data:data,symbol:'circle',symbolSize:9,
  itemStyle:{color:color},silent:true,clip:false,z:4,animation:false});}
const cFn = p=>summer(p.data[2]);
const DOT=3.4, BDOT=3.0;

// N = 10
dots(cloudIn10,0,DOT,cFn); openC(inputInit,0,NAVY); openC(inputRed10,0,RED);
openC(objInit,4,NAVY); openC(objRed10,4,RED);
// N = 20
dots(cloudIn20,1,DOT,cFn); openC(inputInit.concat(inputRed10),1,NAVY); openC(inputAdded20,1,BLUE); fillC(inputBest20,1,RED);
dots(cloudObj20,5,BDOT,'#000'); openC(objInit.concat(objRed10),5,NAVY); openC(objAdded20,5,BLUE); fillC(objBest20,5,RED);
// N = 30
dots(cloudIn30,2,DOT,cFn); openC(inputInit.concat(inputRed10),2,NAVY); openC(inputAdded20.concat(inputAdded30),2,BLUE); fillC(inputBest30,2,RED);
dots(cloudObj30,6,BDOT,'#000'); openC(objInit.concat(objRed10),6,NAVY); openC(objAdded20.concat(objAdded30),6,BLUE); fillC(objBest30,6,RED);
// N = 40
dots(cloudIn40,3,DOT,cFn); openC(inputInit.concat(inputRed10),3,NAVY); openC(inputAdded20.concat(inputAdded30),3,BLUE); fillC(inputBest40,3,RED); fillC(inputBlue40,3,'#0000ff');
dots(cloudObj40,7,BDOT,'#000'); openC(objInit.concat(objRed10),7,NAVY); openC(objAdded20.concat(objAdded30),7,BLUE); fillC(objBest40,7,RED); fillC(objBlue40,7,'#0000ff');

const chart = echarts.init(document.getElementById('c'),null,{renderer:'canvas',width:942,height:1595});
chart.setOption({animation:false,backgroundColor:'#fff',grid,xAxis,yAxis,title,series});
</script></body></html>
